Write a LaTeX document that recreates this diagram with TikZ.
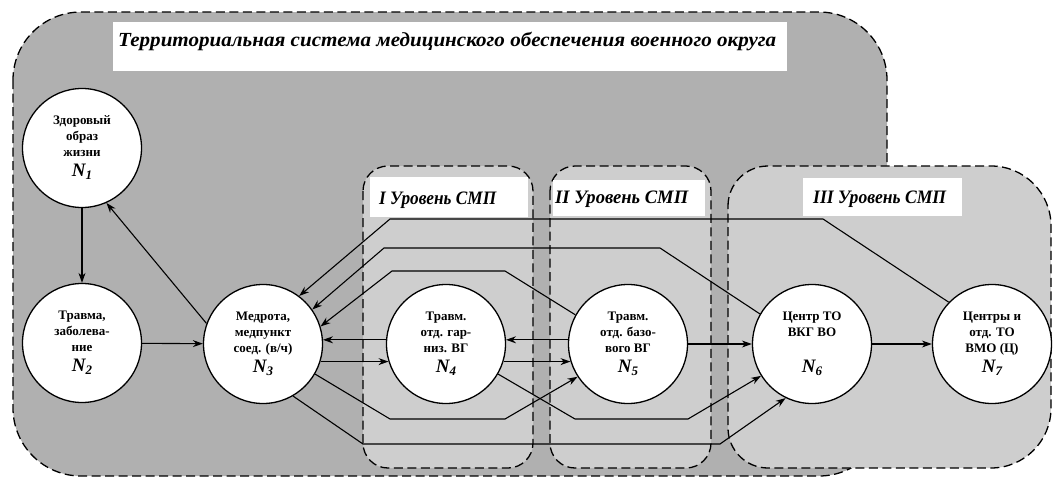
\documentclass[tikz,border=0pt]{standalone}
\usepackage{fontspec}
\setmainfont{Liberation Serif}
\usetikzlibrary{arrows.meta}
\definecolor{outergray}{RGB}{176,176,176}
\definecolor{levelgray}{RGB}{206,206,206}
\newcommand{\Nlab}[1]{{\fontsize{19}{19}\selectfont\bfseries\itshape N\raisebox{-3pt}{\fontsize{13}{13}\selectfont #1}}}
\tikzset{
  region/.style={draw=black, dash pattern=on 9pt off 4.5pt, line width=1.3pt},
  nd/.style={circle, draw=black, line width=1.3pt, fill=white, minimum size=119pt, inner sep=0pt,
    align=center, font=\fontsize{13}{16}\selectfont\bfseries},
  arr/.style={-{Stealth[length=10pt,width=7pt]}, line width=1.1pt},
  lvltext/.style={anchor=base west, inner sep=0pt, font=\fontsize{19}{19}\selectfont\bfseries\itshape},
}
\begin{document}
\begin{tikzpicture}[x=1pt,y=-1pt]
\useasboundingbox (0,0) rectangle (1054,477);
% outer region
\path[region, fill=outergray, rounded corners=68pt] (13,12) rectangle (887,476);
% level boxes
\path[region, fill=levelgray, rounded corners=25pt] (363,166) rectangle (533,468);
\path[region, fill=levelgray, rounded corners=25pt] (550,166) rectangle (711,468);
\path[region, fill=levelgray] (728,206) [rounded corners=40pt] -- (728,166) [rounded corners=60pt] -- (1051,166) -- (1051,468) [rounded corners=40pt] -- (728,468) [sharp corners] -- cycle;
% title
\fill[white] (113,22) rectangle (787,71);
\node[anchor=base west, inner sep=0pt, font=\fontsize{20}{20}\selectfont\bfseries\itshape] (title) at (118,46)
  {\resizebox{658pt}{\height}{Территориальная система медицинского обеспечения военного округа}};
% level labels
\fill[white] (370,177) rectangle (528,217);
\node[lvltext] (lvl1) at (379,204) {\resizebox{117pt}{\height}{I Уровень СМП}};
\fill[white] (553,180) rectangle (705,216);
\node[lvltext] (lvl2) at (555,203) {\resizebox{133pt}{\height}{II Уровень СМП}};
\fill[white] (803,178) rectangle (962,216);
\node[lvltext] (lvl3) at (813,203) {\resizebox{133pt}{\height}{III Уровень СМП}};
% nodes
\node[nd] (n1) at (82,148) {Здоровый\\образ\\жизни\\[4pt]\Nlab{1}};
\node[nd] (n2) at (82,343) {Травма,\\заболева-\\ние\\[4pt]\Nlab{2}};
\node[nd] (n3) at (263,344) {Медрота,\\медпункт\\соед. (в/ч)\\[4pt]\Nlab{3}};
\node[nd] (n4) at (446,344) {Травм.\\отд. гар-\\низ. ВГ\\[4pt]\Nlab{4}};
\node[nd] (n5) at (628,344) {Травм.\\отд. базо-\\вого ВГ\\[4pt]\Nlab{5}};
\node[nd] (n6) at (812,344) {Центр ТО\\ВКГ ВО\\\mbox{}\\[4pt]\Nlab{6}};
\node[nd] (n7) at (992,344) {Центры и\\отд. ТО\\ВМО (Ц)\\[4pt]\Nlab{7}};
% connectors
\draw[arr] (n1) -- (n2);
\draw[arr] (n3.160) -- (n1.-66);
\draw[arr] (n2) -- (n3);
\draw[arr] (n4.176) -- (n3.4);
\draw[arr] (n3.-17) -- (n4.197);
\draw[arr] (n5.176) -- (n4.4);
\draw[arr] (n4.-17) -- (n5.197);
\draw[arr] (n5) -- (n6);
\draw[arr] (n6) -- (n7);
\draw[arr] (n7.136) -- (823,219) -- (390,219) -- (n3.53);
\draw[arr] (n6.150) -- (660,248) -- (384,248) -- (n3.35);
\draw[arr] (n5.151) -- (505,271) -- (392,271) -- (n3.17);
\draw[arr] (n3.-30) -- (390,419) -- (505,419) -- (n5.213);
\draw[arr] (n4.-30) -- (575,419) -- (688,419) -- (n6.212);
\draw[arr] (n3.-60) -- (363,444) -- (720,444) -- (n6.244);
\end{tikzpicture}
\end{document}
